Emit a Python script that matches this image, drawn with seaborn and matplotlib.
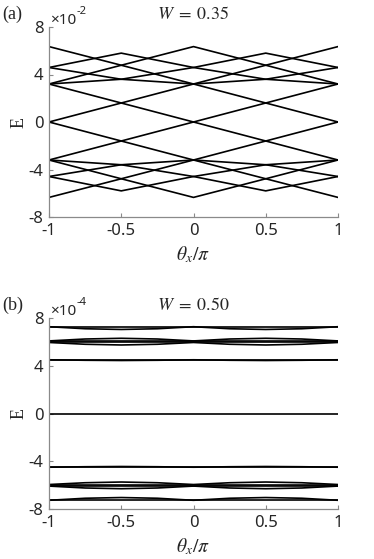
import numpy as np
import pandas as pd
import matplotlib
matplotlib.use("Agg")
import matplotlib.pyplot as plt
import seaborn as sns

# ---- panel (a): W = 0.35, energies in units of 1e-2 ----
theta_a = [-1, -0.5, 0, 0.5, 1]
band_a01 = [6.35, 4.78, 3.2, 1.6, 0]
band_a02 = [0, 1.6, 3.2, 4.78, 6.35]
band_a03 = [3.2, 4.78, 6.35, 4.78, 3.2]
band_a04 = [3.2, 1.6, 0, -1.6, -3.2]
band_a05 = [-3.2, -1.6, 0, 1.6, 3.2]
band_a06 = [4.59, 5.8, 4.59, 5.8, 4.59]
band_a07 = [4.59, 3.6, 4.59, 3.6, 4.59]
band_a08 = [3.2, 3.6, 3.2, 3.6, 3.2]
band_a09 = [-6.35, -4.78, -3.2, -1.6, 0]
band_a10 = [0, -1.6, -3.2, -4.78, -6.35]
band_a11 = [-3.2, -4.78, -6.35, -4.78, -3.2]
band_a12 = [-4.59, -5.8, -4.59, -5.8, -4.59]
band_a13 = [-4.59, -3.6, -4.59, -3.6, -4.59]
band_a14 = [-3.2, -3.6, -3.2, -3.6, -3.2]
bands_a = [band_a01, band_a02, band_a03, band_a04, band_a05, band_a06, band_a07,
           band_a08, band_a09, band_a10, band_a11, band_a12, band_a13, band_a14]

# ---- panel (b): W = 0.50, energies in units of 1e-4 ----
theta_b = [-1, -0.75, -0.5, -0.25, 0, 0.25, 0.5, 0.75, 1]
band_b01 = [7.27, 7.27, 7.27, 7.27, 7.27, 7.27, 7.27, 7.27, 7.27]
band_b02 = [7.27, 7.1, 7.04, 7.1, 7.27, 7.1, 7.04, 7.1, 7.27]
band_b03 = [6.08, 6.08, 6.08, 6.08, 6.08, 6.08, 6.08, 6.08, 6.08]
band_b04 = [5.95, 5.95, 5.95, 5.95, 5.95, 5.95, 5.95, 5.95, 5.95]
band_b05 = [6.08, 6.24, 6.3, 6.24, 6.08, 6.24, 6.3, 6.24, 6.08]
band_b06 = [5.95, 5.8, 5.74, 5.8, 5.95, 5.8, 5.74, 5.8, 5.95]
band_b07 = [4.5, 4.5, 4.5, 4.5, 4.5, 4.5, 4.5, 4.5, 4.5]
band_b08 = [4.5, 4.46, 4.44, 4.46, 4.5, 4.46, 4.44, 4.46, 4.5]
band_b09 = [0, 0, 0, 0, 0, 0, 0, 0, 0]
band_b10 = [-4.5, -4.5, -4.5, -4.5, -4.5, -4.5, -4.5, -4.5, -4.5]
band_b11 = [-4.5, -4.46, -4.44, -4.46, -4.5, -4.46, -4.44, -4.46, -4.5]
band_b12 = [-5.95, -5.95, -5.95, -5.95, -5.95, -5.95, -5.95, -5.95, -5.95]
band_b13 = [-6.08, -6.08, -6.08, -6.08, -6.08, -6.08, -6.08, -6.08, -6.08]
band_b14 = [-5.95, -5.8, -5.74, -5.8, -5.95, -5.8, -5.74, -5.8, -5.95]
band_b15 = [-6.08, -6.24, -6.3, -6.24, -6.08, -6.24, -6.3, -6.24, -6.08]
band_b16 = [-7.27, -7.27, -7.27, -7.27, -7.27, -7.27, -7.27, -7.27, -7.27]
band_b17 = [-7.27, -7.1, -7.04, -7.1, -7.27, -7.1, -7.04, -7.1, -7.27]
bands_b = [band_b01, band_b02, band_b03, band_b04, band_b05, band_b06, band_b07,
           band_b08, band_b09, band_b10, band_b11, band_b12, band_b13, band_b14,
           band_b15, band_b16, band_b17]

ytick_vals = [-8, -4, 0, 4, 8]
xtick_vals = [-1, -0.5, 0, 0.5, 1]
xtick_labels = ["-1", "-0.5", "0", "0.5", "1"]


def to_frame(theta, bands, scale):
    rows = []
    for i, vals in enumerate(bands):
        for t, e in zip(theta, vals):
            rows.append({"theta": t, "E": e * scale, "band": i})
    return pd.DataFrame(rows)


sns.set_style("ticks")
plt.rcParams["font.family"] = ["Noto Sans", "DejaVu Sans"]
plt.rcParams["mathtext.fontset"] = "stix"
plt.rcParams["axes.unicode_minus"] = False

W_px, H_px = 374, 559
fig = plt.figure(figsize=(W_px / 100, H_px / 100), dpi=100)

spine_col = "#8a8a8a"
panels = [
    # (label, title, theta, bands, scale, exponent, top px, bottom px)
    ("(a)", r"$W \;=\; 0.35$", theta_a, bands_a, 1e-2, "-2", 27, 217),
    ("(b)", r"$W \;=\; 0.50$", theta_b, bands_b, 1e-4, "-4", 318, 509),
]
left_px, right_px = 49, 338

for label, title, theta, bands, scale, expo, top, bot in panels:
    ax = fig.add_axes([left_px / W_px, 1 - bot / H_px,
                       (right_px - left_px) / W_px, (bot - top) / H_px])
    df = to_frame(theta, bands, scale)
    sns.lineplot(data=df, x="theta", y="E", units="band", estimator=None,
                 color="black", lw=1.2, ax=ax, legend=False, sort=False)
    ax.set_xlim(-1, 1)
    ax.set_ylim(-8 * scale, 8 * scale)
    ax.set_xticks(xtick_vals)
    ax.set_xticklabels(xtick_labels)
    ax.set_yticks([v * scale for v in ytick_vals])
    ax.set_yticklabels([str(v) for v in ytick_vals])
    ax.tick_params(direction="in", length=3, width=0.8, color=spine_col,
                   labelsize=12, labelcolor="#262626", pad=4)
    sns.despine(ax=ax)
    for s in ["left", "bottom"]:
        ax.spines[s].set_color(spine_col)
        ax.spines[s].set_linewidth(0.9)

    ax.set_xlabel(r"$\theta_x/\pi$", fontsize=14, labelpad=4)
    ax.set_ylabel("E", fontsize=13, family="Liberation Serif", labelpad=1)

    h = bot - top
    ax.text(0.5, 1 + 8 / h, title, transform=ax.transAxes, ha="center",
            va="baseline", fontsize=13)
    ax.text(0.003, 1 + 3 / h, "\u00d710", transform=ax.transAxes, ha="left",
            va="baseline", fontsize=11, color="#262626")
    ax.text(0.095, 1 + 13 / h, expo, transform=ax.transAxes, ha="left",
            va="baseline", fontsize=8, color="#262626")
    fig.text(2 / W_px, 1 - (top - 8) / H_px, label, ha="left", va="baseline",
             fontsize=13, family="Liberation Serif")

fig.savefig("out.png", dpi=100)
